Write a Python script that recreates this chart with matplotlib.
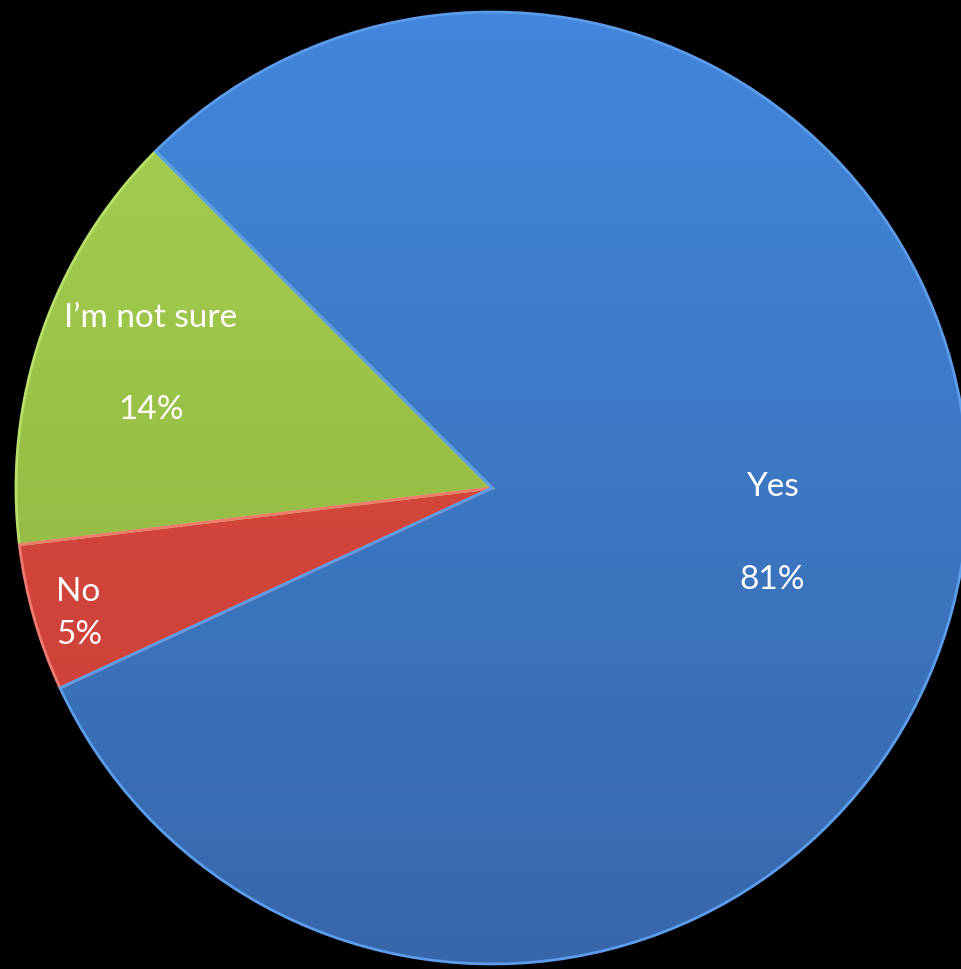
"""Survey pie chart on black background."""

import numpy as np
import matplotlib
matplotlib.use("Agg")
import matplotlib.pyplot as plt
from matplotlib.colors import LinearSegmentedColormap

# --- Data ---
labels = ["I\u2019m not sure", "No", "Yes"]
shares = [14.4, 5.0, 80.6]          # slice sizes as drawn
pct_text = ["14%", "5%", "81%"]     # rounded labels shown on the chart

# --- Style ---
BG = "#000000"
TOP_COLORS = ["#A6D152", "#DE4C42", "#4287DB"]
BOTTOM_COLORS = ["#8AAE3C", "#C83F36", "#3767AA"]
EDGE_COLORS = ["#B9E06A", "#EE7A70", "#5C9DEB"]

W, H = 961, 969
fig = plt.figure(figsize=(W / 100, H / 100), dpi=100, facecolor=BG)
ax = fig.add_axes([0, 0, 1, 1])
ax.set_facecolor(BG)

cx, cy, r = 492, H - 488, 476

wedges, _ = ax.pie(
    shares, startangle=135, counterclock=True, center=(cx, cy), radius=r,
    colors=TOP_COLORS, frame=True,
    wedgeprops=dict(linewidth=2.0, edgecolor="none"),
)

# vertical gradient inside each wedge + light rim
grad = np.linspace(0, 1, 256).reshape(-1, 1)
for w, c_top, c_bot, c_edge in zip(wedges, TOP_COLORS, BOTTOM_COLORS, EDGE_COLORS):
    cmap = LinearSegmentedColormap.from_list("g", [c_bot, c_top])
    im = ax.imshow(grad, cmap=cmap, origin="lower", aspect="auto",
                   extent=(cx - r, cx + r, cy - r, cy + r), zorder=2)
    im.set_clip_path(w)
    w.set_zorder(3)
    w.set_facecolor("none")
    w.set_edgecolor(c_edge)
    w.set_linewidth(2.0)

FONT = ["Lato", "DejaVu Sans"]
txt = dict(color="white", fontsize=24, family=FONT, zorder=5)

# I'm not sure
ax.text(151, H - 318, labels[0], ha="center", va="center", **txt)
ax.text(151, H - 410, pct_text[0], ha="center", va="center", **txt)
# No
ax.text(56, H - 592, labels[1], ha="left", va="center", **txt)
ax.text(56, H - 635, pct_text[1], ha="left", va="center", **txt)
# Yes
ax.text(772, H - 487, labels[2], ha="center", va="center", **txt)
ax.text(772, H - 580, pct_text[2], ha="center", va="center", **txt)

ax.set_xlim(0, W)
ax.set_ylim(0, H)
ax.set_aspect("equal")
ax.axis("off")
fig.savefig("out.png", dpi=100, facecolor=BG)
